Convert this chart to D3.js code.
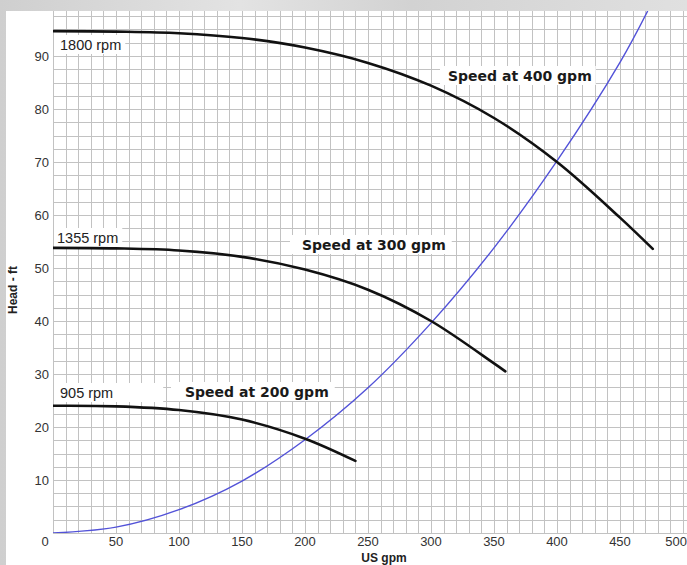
<!DOCTYPE html>
<html>
<head>
<meta charset="utf-8">
<script src="https://cdn.jsdelivr.net/npm/d3@7"></script>
<style>
   html, body { margin: 0; padding: 0; }
   body { width: 687px; height: 565px; overflow: hidden; background: #d8d8d8; }
   .tick-label { font-family: "Liberation Sans", Arial, sans-serif; font-size: 13px; fill: #333; }
   .rpm-label { font-family: "Liberation Sans", Arial, sans-serif; font-size: 14.5px; fill: #222; }
   .speed-label { font-family: "DejaVu Sans", Verdana, sans-serif; font-weight: bold; font-size: 14px; fill: #1a1a1a; }
   .axis-title { font-family: "Liberation Sans", Arial, sans-serif; font-weight: bold; font-size: 12px; fill: #222; }
</style>
</head>
<body>
<svg id="chart" width="687" height="565"></svg>
<script>
// tick labels
var gpmTicks = [0, 50, 100, 150, 200, 250, 300, 350, 400, 450, 500];
var headTicks = [10, 20, 30, 40, 50, 60, 70, 80, 90];

// pump curves
var rpm1800Gpm  = [0, 50, 100, 150, 200, 250, 300, 350, 400, 450, 476];
var rpm1800Head = [94.7, 94.6, 94.3, 93.4, 91.6, 88.7, 84.4, 78.3, 70.0, 59.5, 53.6];

var rpm1355Gpm  = [0, 50, 100, 150, 200, 250, 300, 350, 359];
var rpm1355Head = [53.8, 53.7, 53.3, 52.1, 49.7, 45.9, 40.0, 32.0, 30.5];

var rpm905Gpm  = [0, 50, 100, 150, 200, 240];
var rpm905Head = [24.0, 23.9, 23.2, 21.4, 17.8, 13.6];

// system curve (blue)
var systemGpm  = [0, 50, 100, 150, 200, 250, 300, 350, 400, 450, 472];
var systemHead = [0, 1.1, 4.4, 9.8, 17.6, 27.4, 39.6, 53.8, 70.2, 88.8, 98.5];

var rpmLabels = ["1800 rpm", "1355 rpm", "905 rpm"];
var speedLabels = ["Speed at 400 gpm", "Speed at 300 gpm", "Speed at 200 gpm"];

var svg = d3.select('#chart');

var x = d3.scaleLinear()
      .domain([0, 500])
      .range([53, 683]);

var y = d3.scaleLinear()
      .domain([0, 90])
      .range([533, 56]);

var xMax = x.invert(687),
   yMax = y.invert(11);

// grey textured backdrop
var defs = svg.append("defs");
var bg = defs.append("linearGradient").attr("id", "bg")
   .attr("x1", 0).attr("y1", 0).attr("x2", 1).attr("y2", 0);
bg.append("stop").attr("offset", "0%").attr("stop-color", "#cfcfcf");
bg.append("stop").attr("offset", "35%").attr("stop-color", "#e3e3e3");
bg.append("stop").attr("offset", "60%").attr("stop-color", "#d2d2d2");
bg.append("stop").attr("offset", "100%").attr("stop-color", "#e0e0e0");

svg.append("rect")
   .attr("width", 687).attr("height", 565)
   .attr("fill", "url(#bg)");

// white panel
svg.append("rect")
   .attr("x", 6).attr("y", 11)
   .attr("width", 681).attr("height", 554)
   .attr("fill", "#fff");

defs.append("clipPath").attr("id", "clip")
   .append("rect")
   .attr("x", x(0)).attr("y", y(yMax))
   .attr("width", x(xMax) - x(0))
   .attr("height", y(0) - y(yMax));

// grid: every 10 gpm and every 2.5 ft
var grid = svg.append("g").attr("stroke", "#c2c2c2").attr("stroke-width", 1);

grid.selectAll("line.v")
   .data(d3.range(0, xMax, 10))
   .enter().append("line")
   .attr("class", "v")
   .attr("x1", function (d) { return Math.round(x(d)) + 0.5; })
   .attr("x2", function (d) { return Math.round(x(d)) + 0.5; })
   .attr("y1", y(yMax))
   .attr("y2", y(0));

grid.selectAll("line.h")
   .data(d3.range(0, yMax, 2.5))
   .enter().append("line")
   .attr("class", "h")
   .attr("x1", x(0))
   .attr("x2", x(xMax))
   .attr("y1", function (d) { return Math.round(y(d)) + 0.5; })
   .attr("y2", function (d) { return Math.round(y(d)) + 0.5; });

// tick labels
svg.append("g").selectAll("text")
   .data(headTicks)
   .enter().append("text")
   .attr("class", "tick-label")
   .attr("x", 49)
   .attr("y", function (d) { return y(d); })
   .attr("dy", "0.35em")
   .attr("text-anchor", "end")
   .text(function (d) { return d; });

svg.append("g").selectAll("text")
   .data(gpmTicks)
   .enter().append("text")
   .attr("class", "tick-label")
   .attr("x", function (d) {
      if (d === 0) return x(d) - 8;
      if (d === 500) return 687;   // last label sits at the window edge
      return x(d);
   })
   .attr("y", 546)
   .attr("text-anchor", function (d) { return d === 500 ? "end" : "middle"; })
   .text(function (d) { return d; });

// axis titles
svg.append("text")
   .attr("class", "axis-title")
   .attr("transform", "translate(17,290) rotate(-90)")
   .attr("text-anchor", "middle")
   .text("Head - ft");

svg.append("text")
   .attr("class", "axis-title")
   .attr("x", 384)
   .attr("y", 562)
   .attr("text-anchor", "middle")
   .text("US gpm");

// label boxes
function labelBox(txt, cls, px, py, padL, padR) {
   var g = svg.append("g");
   var rect = g.append("rect").attr("fill", "#fff");
   var t = g.append("text").attr("class", cls).attr("x", px).attr("y", py).text(txt);
   var b = t.node().getBBox();
   rect.attr("x", b.x - padL).attr("y", b.y - 2)
      .attr("width", b.width + padL + padR).attr("height", b.height + 3);
}

labelBox(rpmLabels[0], "rpm-label", 60, 50, 6, 4);
labelBox(rpmLabels[1], "rpm-label", 57, 243, 3, 4);
labelBox(rpmLabels[2], "rpm-label", 60, 398, 6, 50);

labelBox(speedLabels[0], "speed-label", 448, 81, 8, 4);
labelBox(speedLabels[1], "speed-label", 302, 250, 12, 6);
labelBox(speedLabels[2], "speed-label", 185, 397, 14, 6);

// curves
var line = d3.line()
         .x(function (d) { return x(d[0]); })
         .y(function (d) { return y(d[1]); })
         .curve(d3.curveCatmullRom.alpha(0.5));

var curves = svg.append("g").attr("clip-path", "url(#clip)");

curves.append("path")
   .datum(d3.zip(systemGpm, systemHead))
   .attr("fill", "none")
   .attr("stroke", "#5252d8")
   .attr("stroke-width", 1.4)
   .attr("d", line);

[[rpm1800Gpm, rpm1800Head], [rpm1355Gpm, rpm1355Head], [rpm905Gpm, rpm905Head]]
   .forEach(function (c) {
      curves.append("path")
         .datum(d3.zip(c[0], c[1]))
         .attr("fill", "none")
         .attr("stroke", "#111")
         .attr("stroke-width", 2.6)
         .attr("stroke-linecap", "round")
         .attr("d", line);
   });
</script>
</body>
</html>
